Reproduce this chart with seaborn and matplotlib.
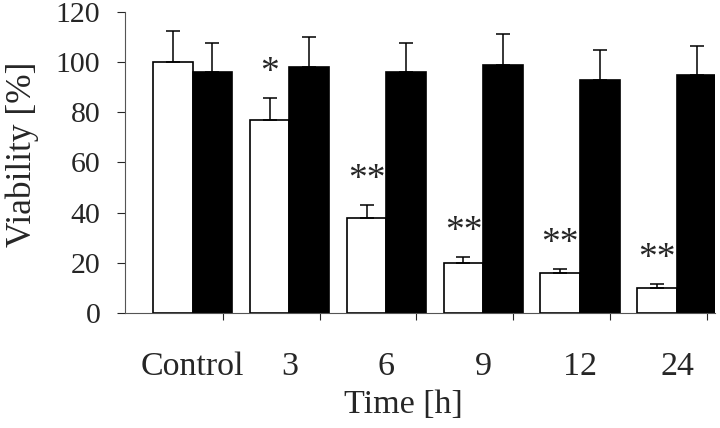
import pandas as pd
import matplotlib.pyplot as plt
import seaborn as sns
import numpy as np

# values
times = ['Control', '3', '6', '9', '12', '24']
white_mean = [100, 77, 38, 20, 16, 10]
white_err = [12.3, 8.7, 4.9, 2.4, 1.6, 1.5]
black_mean = [96, 98, 96, 99, 93, 95]
black_err = [11.6, 12, 11.6, 12.2, 11.7, 11.3]
stars = ['', '*', '**', '**', '**', '**']

df = pd.DataFrame({
    'time': times * 2,
    'viability': white_mean + black_mean,
    'group': ['white'] * len(times) + ['black'] * len(times),
})

sns.set_style('white')
plt.rcParams['font.family'] = ['Liberation Serif', 'DejaVu Serif']

fig = plt.figure(figsize=(7.2, 4.28), dpi=100)
ax = fig.add_axes([0.174, 0.269, 0.819, 0.703])

sns.barplot(data=df, x='time', y='viability', hue='group', order=times,
            palette={'white': 'white', 'black': 'black'}, width=0.82,
            edgecolor='black', linewidth=1.2, errorbar=None, legend=False, ax=ax)

# upper error bars from the drawn bars
n = len(times)
patches = ax.patches[:2 * n]
errs = white_err + black_err
for p, e in zip(patches, errs):
    xc = p.get_x() + p.get_width() / 2
    top = p.get_height()
    ax.errorbar([xc], [top], yerr=[[0], [e]], fmt='none', ecolor='black',
                elinewidth=1.1, capsize=5, capthick=1.1)

# significance stars above the white bars
for i, s in enumerate(stars):
    if not s:
        continue
    p = patches[i]
    xc = p.get_x() + p.get_width() / 2
    y = white_mean[i] + white_err[i] + 10
    ax.text(xc, y, s, ha='center', va='center', fontsize=27)

ax.set_ylim(0, 120)
ax.set_xlim(-0.694, 5.39)
ax.set_yticks(np.arange(0, 121, 20))
ax.tick_params(axis='y', labelsize=21.5, length=6, width=0.8, direction='out', left=True, pad=12)
ax.tick_params(axis='x', which='major', labelsize=24.5, length=0, pad=28)
ax.set_xticks(np.arange(n) + 0.31, minor=True)
ax.tick_params(axis='x', which='minor', length=5, width=0.8, direction='out', bottom=True)

ax.set_xlabel('Time [h]', fontsize=24.5)
ax.xaxis.set_label_coords(0.471, -0.255)
ax.set_ylabel('Viability [%]', fontsize=25.5)
ax.yaxis.set_label_coords(-0.146, 0.528)

sns.despine(ax=ax)
for side in ['left', 'bottom']:
    ax.spines[side].set_color('#555555')
    ax.spines[side].set_linewidth(0.8)

fig.savefig('out.png', dpi=100)
